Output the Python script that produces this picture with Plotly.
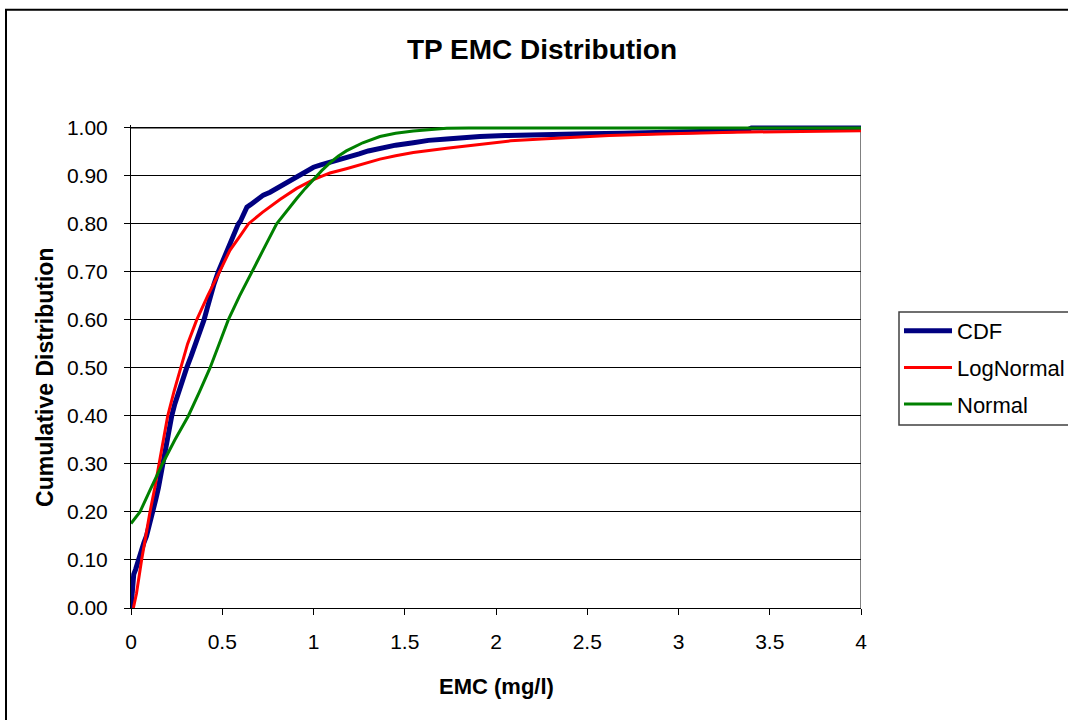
import plotly.graph_objects as go

# ---- data ----
cdf_x = [0.0, 0.004, 0.008, 0.015, 0.025, 0.04, 0.055, 0.07, 0.085, 0.10, 0.112, 0.122,
         0.135, 0.15, 0.162, 0.172, 0.185, 0.20, 0.212, 0.223, 0.24, 0.26, 0.28, 0.305,
         0.33, 0.355, 0.378, 0.40, 0.418, 0.435, 0.455, 0.478, 0.50, 0.52, 0.533, 0.55,
         0.565, 0.588, 0.60, 0.62, 0.635, 0.655, 0.68, 0.70, 0.725, 0.762, 0.79, 0.82,
         0.85, 0.88, 0.91, 0.95, 0.98, 1.0, 1.04, 1.09, 1.13, 1.18, 1.25, 1.30, 1.364,
         1.45, 1.547, 1.63, 1.73, 1.82, 1.912, 2.05, 2.2, 2.35, 2.5, 2.7, 2.9, 3.1, 3.3,
         3.38, 3.4, 4.0]
cdf_y = [0.0, 0.03, 0.055, 0.07, 0.08, 0.10, 0.12, 0.135, 0.15, 0.17, 0.185, 0.20,
         0.225, 0.25, 0.275, 0.30, 0.325, 0.35, 0.375, 0.40, 0.425, 0.45, 0.475, 0.50,
         0.525, 0.55, 0.575, 0.60, 0.625, 0.65, 0.675, 0.70, 0.72, 0.74, 0.75, 0.765,
         0.78, 0.80, 0.806, 0.825, 0.835, 0.84, 0.848, 0.852, 0.86, 0.866, 0.872, 0.878,
         0.885, 0.893, 0.90, 0.907, 0.913, 0.918, 0.923, 0.928, 0.933, 0.938, 0.946, 0.952, 0.958,
         0.964, 0.969, 0.974, 0.977, 0.980, 0.982, 0.984, 0.986, 0.987, 0.988, 0.989, 0.99, 0.992, 0.994,
         0.996, 1.0, 1.0]

lognormal_x = [0.013, 0.03, 0.058, 0.08, 0.104, 0.13, 0.155, 0.178, 0.201, 0.235, 0.272,
               0.31, 0.36, 0.42, 0.485, 0.542, 0.60, 0.643, 0.72, 0.816, 0.908, 1.0, 1.05,
               1.09, 1.18, 1.27, 1.364, 1.45, 1.547, 1.73, 1.912, 2.08, 2.25, 2.4, 2.62, 2.9,
               3.3, 4.0]
lognormal_y = [0.0, 0.03, 0.10, 0.15, 0.20, 0.25, 0.30, 0.35, 0.40, 0.45, 0.50,
               0.55, 0.60, 0.65, 0.70, 0.745, 0.776, 0.80, 0.824, 0.851, 0.874, 0.892, 0.90,
               0.906, 0.915, 0.925, 0.935, 0.942, 0.9486, 0.9576, 0.966, 0.973, 0.977, 0.98,
               0.984, 0.987, 0.991, 0.994]

normal_x = [0.0, 0.049, 0.11, 0.172, 0.24, 0.314, 0.375, 0.433, 0.483, 0.533, 0.595,
            0.661, 0.73, 0.798, 0.85, 0.908, 0.955, 1.0, 1.045, 1.09, 1.135, 1.18, 1.27,
            1.364, 1.45, 1.547, 1.64, 1.73, 1.85, 2.0, 4.0]
normal_y = [0.176, 0.20, 0.25, 0.30, 0.35, 0.40, 0.45, 0.50, 0.55, 0.60, 0.65,
            0.70, 0.75, 0.80, 0.826, 0.853, 0.874, 0.893, 0.911, 0.927, 0.941, 0.952, 0.969,
            0.982, 0.989, 0.9935, 0.997, 0.9994, 1.0, 1.0, 1.0]

series_names = ["CDF", "LogNormal", "Normal"]
x_ticks = [0, 0.5, 1, 1.5, 2, 2.5, 3, 3.5, 4]
y_ticks = [0.0, 0.1, 0.2, 0.3, 0.4, 0.5, 0.6, 0.7, 0.8, 0.9, 1.0]

FONT = "Liberation Sans, Arial, sans-serif"

fig = go.Figure()
fig.add_trace(go.Scatter(x=cdf_x, y=cdf_y, mode="lines", name=series_names[0],
                         line=dict(color="#000080", width=5), legendgroup="a"))
fig.add_trace(go.Scatter(x=lognormal_x, y=lognormal_y, mode="lines", name=series_names[1],
                         line=dict(color="#FF0000", width=3), legendgroup="b"))
fig.add_trace(go.Scatter(x=normal_x, y=normal_y, mode="lines", name=series_names[2],
                         line=dict(color="#008000", width=3), legendgroup="c"))

PH = 480 * 1.006  # plot height in px

fig.update_layout(
    width=1068, height=720,
    margin=dict(l=131, r=207, t=720 - 112 - PH, b=112, pad=0),
    paper_bgcolor="white", plot_bgcolor="white",
    font=dict(family=FONT, size=21, color="black"),
    title=dict(text="<b>TP EMC Distribution</b>", xref="container", yref="container",
               x=542 / 1068, y=1 - 49 / 720, xanchor="center", yanchor="middle",
               font=dict(size=28, family=FONT, color="black")),
    xaxis=dict(range=[0, 4], tickvals=x_ticks, ticktext=[f"{v:g}" for v in x_ticks],
               ticks="outside", ticklen=6, tickcolor="black", showline=True,
               linecolor="black", linewidth=1, showgrid=False, zeroline=False,
               tickfont=dict(size=21), ticklabelstandoff=9),
    yaxis=dict(range=[0, 1.006], tickvals=y_ticks, ticktext=[f"{v:.2f}" for v in y_ticks],
               ticks="outside", ticklen=6, tickcolor="black", showline=True,
               linecolor="black", linewidth=1, showgrid=True, gridcolor="black",
               gridwidth=1, zeroline=False, tickfont=dict(size=21), ticklabelstandoff=12),
    showlegend=True,
    legend=dict(xref="container", yref="container", x=899 / 1068, y=1 - 310 / 720,
                xanchor="left", yanchor="top", borderwidth=0,
                bgcolor="rgba(0,0,0,0)",
                font=dict(size=22, family=FONT), traceorder="grouped", tracegroupgap=5,
                itemwidth=48),
    shapes=[
        dict(type="line", xref="x", yref="y", x0=4, x1=4, y0=0, y1=1,
             line=dict(color="#808080", width=2), layer="below"),
        dict(type="line", xref="x", yref="y", x0=0, x1=4, y0=1, y1=1,
             line=dict(color="#808080", width=2), layer="below"),
        dict(type="rect", xref="paper", yref="paper",
             x0=(6 - 131) / 730, x1=1.4, y0=-0.4, y1=(608 - 10) / PH,
             line=dict(color="black", width=2), fillcolor="rgba(0,0,0,0)", layer="below"),
        dict(type="rect", xref="paper", yref="paper",
             x0=(899 - 131) / 730, x1=(1080 - 131) / 730,
             y0=(608 - 425) / PH, y1=(608 - 312) / PH,
             line=dict(color="#404040", width=1.5), fillcolor="white", layer="below"),
    ],
    annotations=[
        dict(text="<b>EMC (mg/l)</b>", xref="paper", yref="paper",
             x=(496 - 131) / 730, y=(608 - 686) / PH, xanchor="center", yanchor="middle",
             showarrow=False, font=dict(size=22, family=FONT)),
        dict(text="<b>Cumulative Distribution</b>", xref="paper", yref="paper",
             x=(45 - 131) / 730, y=(608 - 378) / PH, xanchor="center", yanchor="middle",
             textangle=-90, showarrow=False, font=dict(size=23, family=FONT)),
    ],
)

fig.write_html("out.html", config={"displayModeBar": False},
               post_script="document.body.style.margin='0';")
